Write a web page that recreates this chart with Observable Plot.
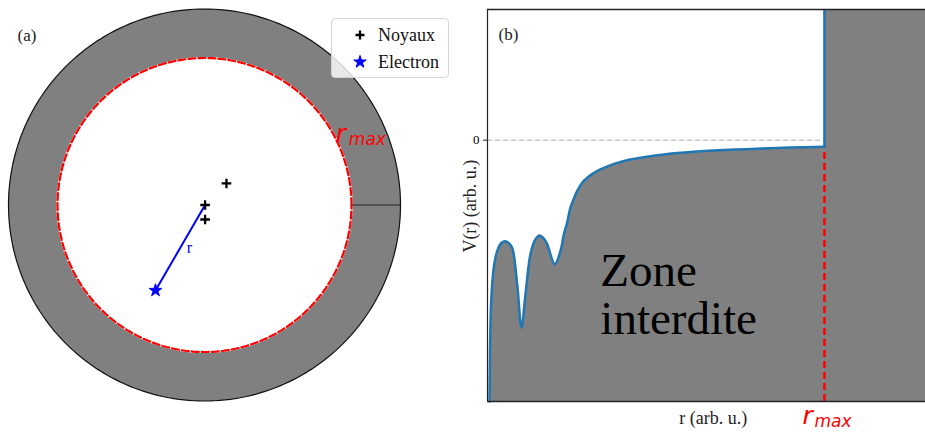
<!DOCTYPE html>
<html><head><meta charset="utf-8">
<script src="https://cdn.jsdelivr.net/npm/d3@7"></script>
<script src="https://cdn.jsdelivr.net/npm/@observablehq/plot@0.6"></script>
<style>
body{margin:0;background:#fff;}
#wrap{position:relative;width:925px;height:432px;overflow:hidden;font-family:"Liberation Serif",serif;}
#left{position:absolute;left:0;top:0;}
#right{position:absolute;left:460px;top:0;}
#legend{position:absolute;left:331px;top:18px;width:118px;height:60px;background:rgba(255,255,255,0.82);border:1px solid #d4d4d4;border-radius:4px;box-sizing:border-box;}
#legend .row{position:absolute;left:0;height:20px;display:flex;align-items:center;}
#legend .lab{position:absolute;left:46px;font-size:18px;color:#111;white-space:nowrap;line-height:20px;}
</style></head><body>
<div id="wrap"><div id="left"></div><div id="right"></div><div id="legend"></div></div>
<script>
// ---------- data: panel (a) ----------
const outerRadius = 1;
const innerRadius = 0.75;
const nucleiX = [0.112, 0.003, 0.003];
const nucleiY = [0.110, 0.0, -0.074];
const electronX = [-0.25];
const electronY = [-0.436];
const legendLabels = ["Noyaux", "Electron"];
const panelLabels = ["(a)", "(b)"];

// ---------- data: panel (b) ----------
const potentialR = [0.0060, 0.0110, 0.0187, 0.0288, 0.0420, 0.0534, 0.0640, 0.0733, 0.0881, 0.1009, 0.1128, 0.1276, 0.1420, 0.1550, 0.1660, 0.1770, 0.1997, 0.2166, 0.2265, 0.2365, 0.2460, 0.2560, 0.2660, 0.2800, 0.2960, 0.3150, 0.3350, 0.3600, 0.3850, 0.4200, 0.4640, 0.5300, 0.6120, 0.7000, 0.8100, 0.9000, 1.0000];
const potentialV = [-2.00, -1.232, -0.973, -0.849, -0.785, -0.773, -0.790, -0.824, -1.102, -1.436, -1.178, -0.872, -0.760, -0.729, -0.750, -0.796, -0.949, -0.849, -0.722, -0.630, -0.518, -0.450, -0.390, -0.330, -0.288, -0.252, -0.224, -0.197, -0.174, -0.150, -0.130, -0.107, -0.089, -0.075, -0.064, -0.057, -0.051];
const rMax = 1;
const rDomain = [0, 1.3];
const vDomain = [-2, 1];
const vTicks = [0];

const GRAY = "#808080";
const BLUE_E = "#0000ff";
const LINE_BLUE = "#1f77b4";
const RED = "#ff0000";
const SERIF = "Liberation Serif";
const MATH = "DejaVu Sans";

// ---------- panel (a) ----------
const angles = d3.range(0, 360, 1.5);
const circle = rad => angles.map(a => ({x: rad * Math.cos(a * Math.PI / 180), y: rad * Math.sin(a * Math.PI / 180)}));
const nuclei = nucleiX.map((x, i) => ({x, y: nucleiY[i]}));
const electron = electronX.map((x, i) => ({x, y: electronY[i]}));
const unit = 196; // px per data unit in panel (a)
const cx = 204, cy = 204.5;

const left = Plot.plot({
  width: 460, height: 432,
  marginTop: 0, marginRight: 0, marginBottom: 0, marginLeft: 0,
  x: {domain: [-cx / unit, (460 - cx) / unit], axis: null},
  y: {domain: [-(432 - cy) / unit, cy / unit], axis: null},
  style: {fontFamily: SERIF, background: "white"},
  marks: [
    Plot.line(circle(outerRadius), {x: "x", y: "y", curve: "linear-closed", fill: GRAY, stroke: "#111", strokeWidth: 1.2}),
    Plot.line(circle(innerRadius), {x: "x", y: "y", curve: "linear-closed", fill: "white", stroke: "white", strokeWidth: 2.2}),
    Plot.line(circle(innerRadius), {x: "x", y: "y", curve: "linear-closed", fill: "none", stroke: RED, strokeWidth: 2.2, strokeDasharray: "7,3"}),
    Plot.ruleY([0], {x1: innerRadius, x2: outerRadius, stroke: "#222", strokeWidth: 1.1}),
    Plot.link(electron, {x1: "x", y1: "y", x2: nuclei[1].x, y2: nuclei[1].y, stroke: BLUE_E, strokeWidth: 2}),
    Plot.dot(nuclei, {x: "x", y: "y", symbol: "plus", r: 3.2, stroke: "black", strokeWidth: 2.3}),
    Plot.dot(electron, {x: "x", y: "y", symbol: "star", r: 4, fill: BLUE_E, stroke: BLUE_E, strokeWidth: 1}),
    Plot.text(["r"], {x: -0.077, y: -0.217, fill: BLUE_E, fontSize: 16, fontFamily: SERIF}),
    Plot.text(["r"], {x: 0.67, y: 0.319, textAnchor: "start", lineAnchor: "bottom", fill: RED, fontSize: 25, fontStyle: "italic", fontFamily: MATH}),
    Plot.text(["max"], {x: 0.67, y: 0.319, dx: 13, dy: 3, textAnchor: "start", lineAnchor: "bottom", fill: RED, fontSize: 17, fontStyle: "italic", fontFamily: MATH}),
    Plot.text([panelLabels[0]], {frameAnchor: "top-left", dx: 17, dy: 28, textAnchor: "start", lineAnchor: "top", fontSize: 17, fill: "#222"})
  ]
});
document.getElementById("left").appendChild(left);

// legend
const legend = d3.select("#legend");
const legendSymbols = [
  {path: "M-4.5,0H4.5M0,-4.5V4.5", fill: "none", stroke: "black", sw: 2.3},
  {path: d3.symbol(d3.symbolStar, 48)(), fill: BLUE_E, stroke: BLUE_E, sw: 1}
];
legendLabels.forEach((lab, i) => {
  const row = legend.append("div").attr("class", "row").style("top", (6 + i * 27) + "px").style("width", "116px");
  const svg = row.append("svg").attr("width", 20).attr("height", 20).style("position", "absolute").style("left", "18px");
  svg.append("path").attr("transform", "translate(10,10)").attr("d", legendSymbols[i].path)
    .attr("fill", legendSymbols[i].fill).attr("stroke", legendSymbols[i].stroke).attr("stroke-width", legendSymbols[i].sw);
  row.append("span").attr("class", "lab").text(lab);
});

// ---------- panel (b) ----------
const potential = potentialR.map((r, i) => ({r, v: potentialV[i]}));
const vEnd = potentialV[potentialV.length - 1];

const right = Plot.plot({
  width: 465, height: 432,
  marginTop: 9, marginRight: 0, marginBottom: 31, marginLeft: 27,
  x: {domain: rDomain, axis: null},
  y: {domain: vDomain, axis: null},
  style: {fontFamily: SERIF, background: "white"},
  marks: [
    Plot.areaY(potential, {x: "r", y1: vDomain[0], y2: "v", fill: GRAY, curve: "catmull-rom"}),
    Plot.rect([rMax], {x1: d => d, x2: rDomain[1], y1: vDomain[0], y2: vDomain[1], fill: GRAY}),
    Plot.ruleY(vTicks, {x1: rDomain[0], x2: rMax, stroke: "#aaaaaa", strokeWidth: 1, strokeDasharray: "5,3"}),
    Plot.ruleX([rMax], {y1: vDomain[0], y2: vEnd, stroke: RED, strokeWidth: 2.5, strokeDasharray: "7,4"}),
    Plot.line(potential, {x: "r", y: "v", stroke: LINE_BLUE, strokeWidth: 2.5, curve: "catmull-rom"}),
    Plot.ruleX([rMax], {y1: vEnd, y2: vDomain[1], stroke: LINE_BLUE, strokeWidth: 2.5}),
    Plot.ruleX([rDomain[0]], {stroke: "#222", strokeWidth: 1.2}),
    Plot.ruleY(vDomain, {stroke: "#222", strokeWidth: 1.5}),
    Plot.axisY(vTicks, {tickSize: 4, tickPadding: 4, tickFormat: d => String(d), fontSize: 13, label: null, stroke: "#222"}),
    Plot.text([panelLabels[1]], {frameAnchor: "top-left", dx: 11, dy: 18, textAnchor: "start", lineAnchor: "top", fontSize: 17, fill: "#222"}),
    Plot.text(["Zone\ninterdite"], {x: 0.335, y: -1.484, textAnchor: "start", lineAnchor: "bottom", lineHeight: 1.03, fontSize: 47, fill: "black"}),
    Plot.text(["V(r) (arb. u.)"], {frameAnchor: "left", y: -0.505, dx: -17, rotate: -90, textAnchor: "middle", lineAnchor: "middle", fontSize: 18, fill: "#222"}),
    Plot.text(["r (arb. u.)"], {x: 0.67, frameAnchor: "bottom", dy: 22, textAnchor: "middle", lineAnchor: "bottom", fontSize: 18, fill: "#222"}),
    Plot.text(["r"], {x: rMax, frameAnchor: "bottom", dx: -22, dy: 22, textAnchor: "start", lineAnchor: "bottom", fontSize: 25, fontStyle: "italic", fontFamily: MATH, fill: RED}),
    Plot.text(["max"], {x: rMax, frameAnchor: "bottom", dx: -10, dy: 25, textAnchor: "start", lineAnchor: "bottom", fontSize: 17, fontStyle: "italic", fontFamily: MATH, fill: RED})
  ]
});
document.getElementById("right").appendChild(right);
</script>
</body></html>
